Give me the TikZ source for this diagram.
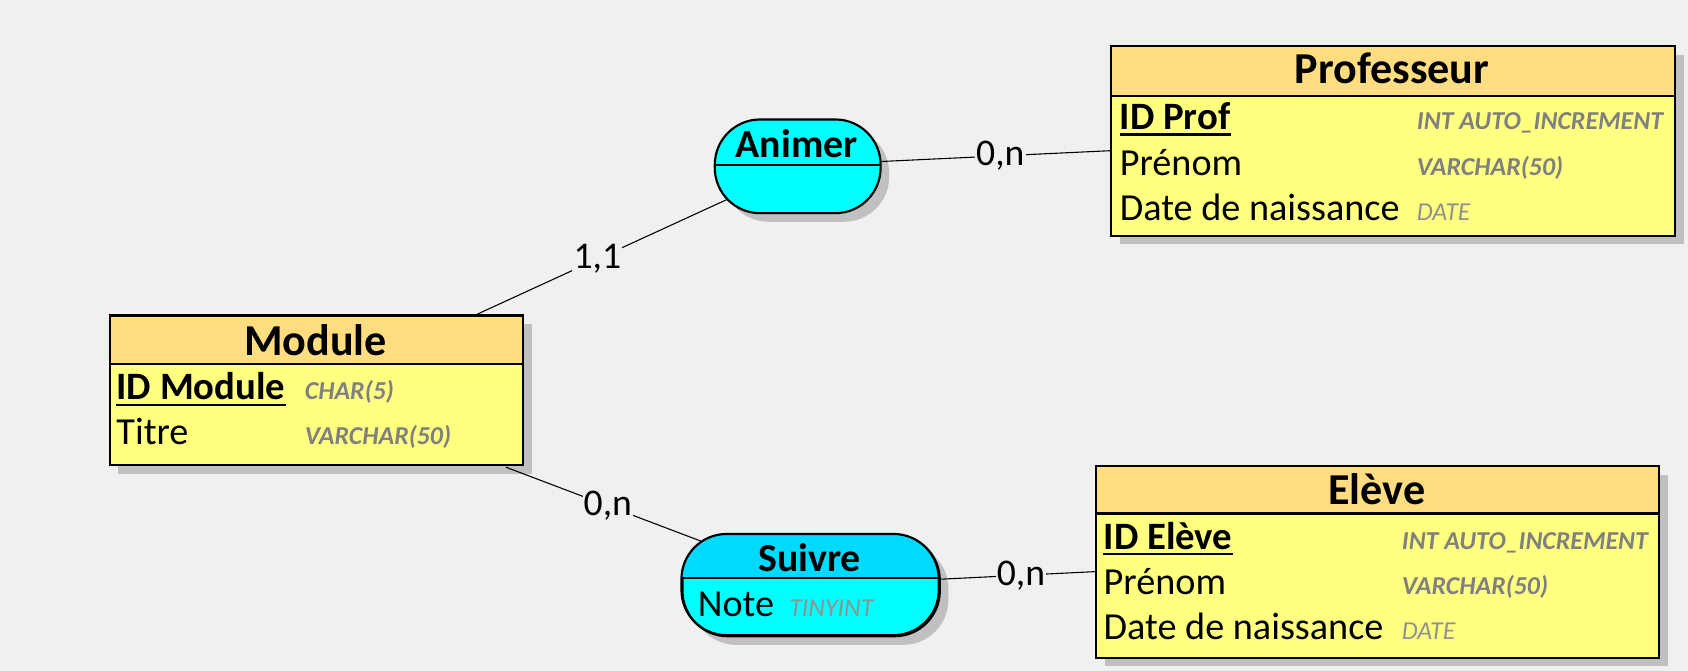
\documentclass[tikz,border=0pt]{standalone}
\usepackage{fontspec}
\setmainfont{Carlito}
\usetikzlibrary{calc,shadows}
\definecolor{bg}{RGB}{240,240,240}
\definecolor{hdr}{RGB}{255,221,128}
\definecolor{bdy}{RGB}{255,255,128}
\definecolor{cyanb}{RGB}{0,255,255}
\definecolor{cyanh}{RGB}{0,218,255}
\definecolor{shd}{RGB}{192,192,192}
\definecolor{typ}{RGB}{128,128,128}
\definecolor{typl}{RGB}{145,145,145}
\tikzset{
  shad/.style={drop shadow={shadow xshift=8pt, shadow yshift=-8pt, fill=shd, opacity=1}},
  entbox/.style={draw=black, line width=2pt, fill=bdy, inner sep=0pt, anchor=north west, shad},
  hdrbox/.style={draw=black, line width=2pt, fill=hdr, inner sep=0pt, anchor=north west},
  assocbox/.style={draw=black, line width=2pt, fill=cyanb, inner sep=0pt, anchor=north west, rounded corners=42pt, shad},
  ttl/.style={font=\fontsize{41}{46}\selectfont\bfseries, anchor=base, inner sep=0pt},
  attl/.style={font=\fontsize{37}{42}\selectfont\bfseries, anchor=base, inner sep=0pt},
  attr/.style={font=\fontsize{35.5}{40}\selectfont, anchor=base west, inner sep=0pt},
  keyattr/.style={font=\fontsize{36}{40}\selectfont\bfseries, anchor=base west, inner sep=0pt},
  typ/.style={font=\fontsize{24}{28}\selectfont\bfseries\itshape, text=typ, anchor=base west, inner sep=0pt},
  typlight/.style={font=\fontsize{24}{28}\selectfont\itshape, text=typl, anchor=base west, inner sep=0pt},
  ul/.style={line width=2pt},
  conn/.style={line width=1pt},
  card/.style={font=\fontsize{35}{40}\selectfont, fill=bg, inner sep=1pt, pos=0.52},
}
\begin{document}
\begin{tikzpicture}[x=1pt,y=-1pt]
\fill[bg] (0,0) rectangle (1568,623);
\useasboundingbox (0,0) rectangle (1568,623);

% ---------- Professeur ----------
\node[entbox, minimum width=524pt, minimum height=176pt] (prof) at (1031,42) {};
\node[hdrbox, minimum width=524pt, minimum height=46pt] (profh) at (1031,42) {};
\node[ttl] (proft) at (1293,78) {Professeur};
\node[keyattr] (profk) at (1040,120) {ID Prof};
\draw[ul] ($(profk.base west)+(0,5)$) -- ($(profk.base east)+(0,5)$);
\node[attr] (profa2) at (1040,163) {Prénom};
\node[attr] (profa3) at (1040,205) {Date de naissance};
\node[typ] (proft1) at (1316,120) {INT AUTO\_INCREMENT};
\node[typ] (proft2) at (1316,163) {VARCHAR(50)};
\node[typlight] (proft3) at (1316,205) {DATE};

% ---------- Module ----------
\node[entbox, minimum width=384pt, minimum height=139pt] (mod) at (101,292) {};
\node[hdrbox, minimum width=384pt, minimum height=45pt] (modh) at (101,292) {};
\node[ttl] (modt) at (293,330) {Module};
\node[keyattr] (modk) at (108,371) {ID Module};
\draw[ul] ($(modk.base west)+(0,5)$) -- ($(modk.base east)+(0,5)$);
\node[attr] (moda2) at (108,413) {Titre};
\node[typ] (modt1) at (283,371) {CHAR(5)};
\node[typ] (modt2) at (283,413) {VARCHAR(50)};

% ---------- Eleve ----------
\node[entbox, minimum width=523pt, minimum height=178pt] (elev) at (1017,432) {};
\node[hdrbox, minimum width=523pt, minimum height=44pt] (elevh) at (1017,432) {};
\node[ttl] (elevt) at (1279,469) {Elève};
\node[keyattr] (elevk) at (1025,510) {ID Elève};
\draw[ul] ($(elevk.base west)+(0,5)$) -- ($(elevk.base east)+(0,5)$);
\node[attr] (eleva2) at (1025,552) {Prénom};
\node[attr] (eleva3) at (1025,594) {Date de naissance};
\node[typ] (elevt1) at (1302,510) {INT AUTO\_INCREMENT};
\node[typ] (elevt2) at (1302,552) {VARCHAR(50)};
\node[typlight] (elevt3) at (1302,594) {DATE};

% ---------- Animer ----------
\node[assocbox, minimum width=154pt, minimum height=87pt] (anim) at (663,110) {};
\draw[line width=2pt] (663,153) -- (817,153);
\node[attl] (animt) at (740,146) {Animer};

% ---------- Suivre ----------
\node[assocbox, minimum width=239pt, minimum height=94pt] (suiv) at (633,496) {};
\begin{scope}
  \clip[rounded corners=42pt] (633,496) rectangle (872,590);
  \fill[cyanh] (633,496) rectangle (872,537);
\end{scope}
\draw[line width=2pt, rounded corners=42pt] (633,496) rectangle (872,590);
\draw[line width=2pt] (633,537) -- (872,537);
\node[attl] (suivt) at (752,531) {Suivre};
\node[attr] (suiva) at (648,573) {Note};
\node[typlight] (suivty) at (733,573) {TINYINT};

% ---------- connectors ----------
\draw[conn] ($(anim.east)+(0,-4.5)$) -- node[card] (c1) {0,n} ($(prof.west)+(0,9)$);
\draw[conn] ($(anim.south west)+(13,-14)$) -- node[card] (c2) {1,1} ($(mod.north west)+(342,0)$);
\draw[conn] ($(mod.south west)+(369,1)$) -- node[card] (c3) {0,n} ($(suiv.north west)+(19,7)$);
\draw[conn] ($(suiv.east)+(0,-6)$) -- node[card] (c4) {0,n} ($(elev.west)+(0,9)$);
\end{tikzpicture}
\end{document}
